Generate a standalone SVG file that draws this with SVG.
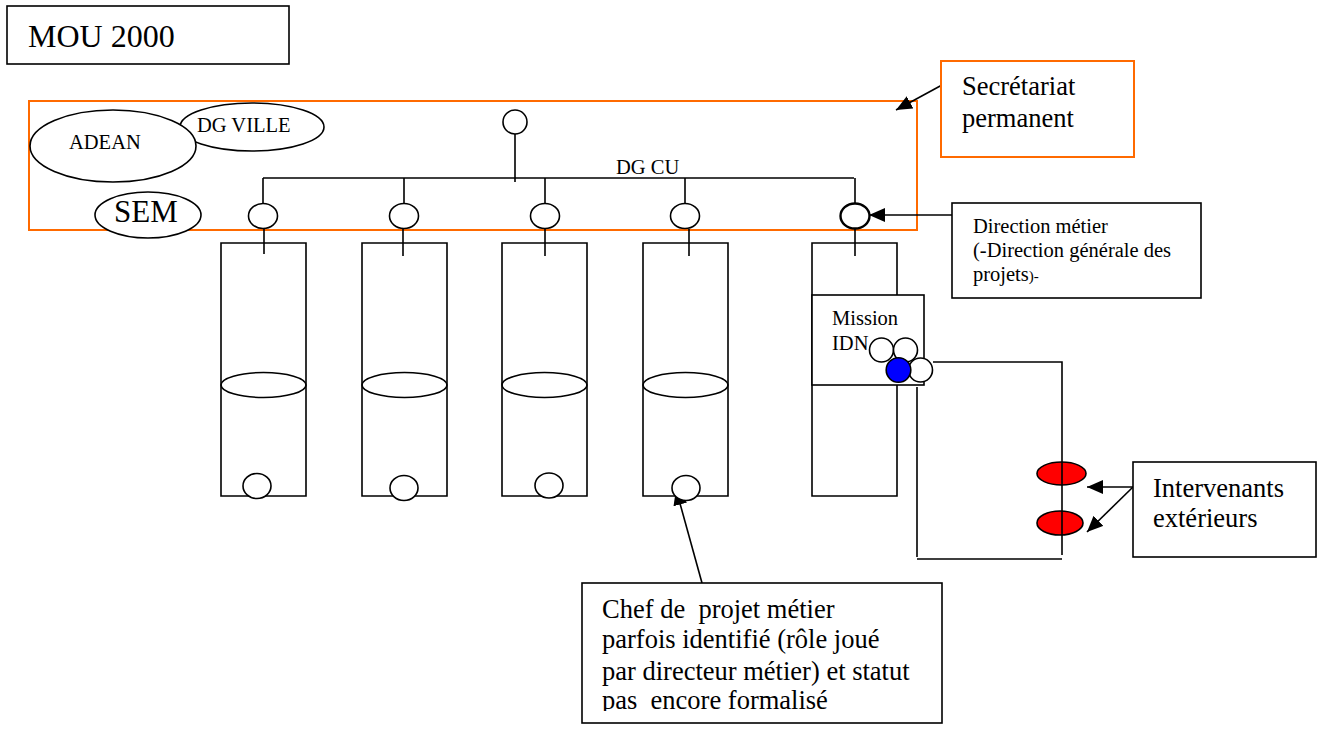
<svg xmlns="http://www.w3.org/2000/svg" width="1336" height="729" viewBox="0 0 1336 729">
<style>
text{font-family:"Liberation Serif","Times New Roman",serif;fill:#000;white-space:pre}
.k{fill:none;stroke:#000;stroke-width:1.6}
.w{fill:#fff;stroke:#000;stroke-width:1.6}
.o{fill:#fff;stroke:#FF6A00;stroke-width:2}
.t20{font-size:20.5px}
.t26{font-size:26.5px}
</style>
<defs>
<marker id="ah" markerUnits="userSpaceOnUse" markerWidth="18" markerHeight="14" refX="16" refY="7" orient="auto">
<path d="M0,0 L16,7 L0,14 Z" fill="#000"/>
</marker>
<clipPath id="chefclip"><rect x="582" y="583" width="360" height="128"/></clipPath>
</defs>
<rect width="1336" height="729" fill="#fff"/>

<g id="mou">
<rect x="7" y="6" width="282" height="58" class="w"/>
<text x="28" y="47" style="font-size:32px">MOU 2000</text>
</g>

<g id="secretariat-area">
<rect x="29" y="101" width="888" height="129" style="fill:none;stroke:#FF6A00;stroke-width:2"/>
</g>

<g id="dgville">
<ellipse cx="252" cy="127" rx="72" ry="24" class="w"/>
<text x="197" y="132" class="t20">DG VILLE</text>
</g>
<g id="adean">
<ellipse cx="113" cy="146" rx="83" ry="36" class="w"/>
<text x="69" y="149" class="t20">ADEAN</text>
</g>
<g id="sem">
<ellipse cx="148" cy="215" rx="53" ry="23" class="w"/>
<text x="114" y="222" style="font-size:31px">SEM</text>
</g>

<g id="connectors">
<path class="k" d="M515,134 V182 M263,178 H854 M263,178 V203 M404,178 V203 M545,178 V203 M685,178 V203 M855,178 V203"/>
<path class="k" d="M264,229 V254 M403,229 V256 M545,229 V256 M689,229 V256 M855,229 V256"/>
<line x1="942" y1="85" x2="896" y2="110" class="k" marker-end="url(#ah)"/>
<line x1="952" y1="215" x2="869" y2="215" class="k" marker-end="url(#ah)"/>
<line x1="702" y1="583" x2="676" y2="489" class="k" marker-end="url(#ah)"/>
<line x1="1133" y1="487" x2="1087" y2="487" class="k" marker-end="url(#ah)"/>
<line x1="1133" y1="487" x2="1087" y2="532" class="k" marker-end="url(#ah)"/>
</g>

<g id="dgcu">
<circle cx="515" cy="122" r="12" class="w"/>
<text x="616" y="174" class="t20">DG CU</text>
</g>

<g id="dir1"><ellipse cx="263" cy="216" rx="14.5" ry="12.5" class="w"/></g>
<g id="dir2"><ellipse cx="404" cy="216" rx="14.5" ry="12.5" class="w"/></g>
<g id="dir3"><ellipse cx="545" cy="216" rx="14.5" ry="12.5" class="w"/></g>
<g id="dir4"><ellipse cx="685" cy="216" rx="14.5" ry="12.5" class="w"/></g>
<g id="dir5"><ellipse cx="855" cy="216" rx="14.5" ry="12.5" class="w" style="stroke-width:2.4"/></g>

<g id="col1">
<path class="k" d="M221,243 H306 V496 H221 Z"/>
<ellipse cx="263.5" cy="385" rx="42.5" ry="12.5" class="k"/>
<ellipse cx="257" cy="486" rx="14" ry="12.5" class="w"/>
</g>
<g id="col2">
<path class="k" d="M362,243 H447 V496 H362 Z"/>
<ellipse cx="404.5" cy="385" rx="42.5" ry="12.5" class="k"/>
<ellipse cx="404" cy="488" rx="14" ry="12.5" class="w"/>
</g>
<g id="col3">
<path class="k" d="M502,243 H587 V496 H502 Z"/>
<ellipse cx="544.5" cy="385" rx="42.5" ry="12.5" class="k"/>
<ellipse cx="549" cy="485.5" rx="14" ry="12.5" class="w"/>
</g>
<g id="col4">
<path class="k" d="M643,243 H728 V496 H643 Z"/>
<ellipse cx="685.5" cy="385" rx="42.5" ry="12.5" class="k"/>
<ellipse cx="686" cy="488" rx="14" ry="12.5" class="w"/>
</g>
<g id="col5">
<path class="k" d="M812,243 H897 V496 H812 Z"/>
</g>

<g id="mission">
<rect x="812" y="295" width="112" height="90" class="w"/>
<text x="832" y="325" class="t20">Mission</text>
<text x="832" y="350" class="t20">IDN</text>
<circle cx="881.5" cy="350" r="12" class="w"/>
<circle cx="905.5" cy="350" r="12" class="w"/>
<circle cx="920.5" cy="370" r="12" class="w"/>
<circle cx="898.5" cy="370" r="12.3" fill="#0000FF" stroke="#000" stroke-width="1.6"/>
</g>

<g id="external-loop">
<ellipse cx="1061.5" cy="473.5" rx="24.5" ry="11.5" fill="#FF0000" stroke="#000" stroke-width="1.6"/>
<ellipse cx="1060" cy="523" rx="23" ry="12" fill="#FF0000" stroke="#000" stroke-width="1.6"/>
<path class="k" d="M933,362 H1062 V555 M917,387 V557 M917,559 H1062"/>
</g>

<g id="secretariat-label">
<rect x="941" y="61" width="193" height="96" class="o"/>
<text x="962" y="95" class="t26">Secrétariat</text>
<text x="962" y="127" class="t26">permanent</text>
</g>

<g id="direction-label">
<rect x="952" y="203" width="249" height="95" class="w"/>
<text x="973" y="233" class="t20">Direction métier</text>
<text x="973" y="257" class="t20">(-Direction générale des</text>
<text x="973" y="281" class="t20">projets<tspan style="font-size:15px">)-</tspan></text>
</g>

<g id="intervenants-label">
<rect x="1133" y="462" width="183" height="95" class="w"/>
<text x="1153" y="497" class="t26">Intervenants</text>
<text x="1153" y="527" class="t26">extérieurs</text>
</g>

<g id="chef-label">
<rect x="582" y="583" width="360" height="140" class="w"/>
<g clip-path="url(#chefclip)">
<text x="602" y="618" class="t26">Chef de  projet métier</text>
<text x="602" y="648" class="t26">parfois identifié (rôle joué</text>
<text x="602" y="680" class="t26">par directeur métier) et statut</text>
<text x="602" y="709" class="t26">pas  encore formalisé</text>
</g>
</g>
</svg>
